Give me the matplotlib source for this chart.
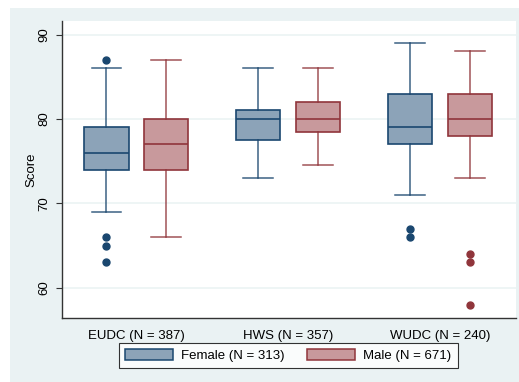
import matplotlib
matplotlib.use("Agg")
import matplotlib.pyplot as plt
from matplotlib.patches import Rectangle, Patch

plt.rcParams['font.family'] = ['Liberation Sans', 'DejaVu Sans']

# categories and group sizes
groups = ["EUDC (N = 387)", "HWS (N = 357)", "WUDC (N = 240)"]
series = ["Female (N = 313)", "Male (N = 671)"]

# box stats: [EUDC, HWS, WUDC]
female_whislo = [69, 73, 71]
female_q1 = [74, 77.5, 77]
female_med = [76, 80, 79]
female_q3 = [79, 81, 83]
female_whishi = [86, 86, 89]
female_fliers = [[87, 66, 65, 63], [], [67, 66]]

male_whislo = [66, 74.5, 73]
male_q1 = [74, 78.5, 78]
male_med = [77, 80, 80]
male_q3 = [80, 82, 83]
male_whishi = [87, 86, 88]
male_fliers = [[], [], [64, 63, 58]]

navy = "#1a476f"
navy_fill = "#8ca3b8"
red = "#90353b"
red_fill = "#c8999c"
bg = "#eaf2f3"
fs = 9.5


def make_stats(lo, q1, med, q3, hi, fl):
    out = []
    for i in range(len(lo)):
        out.append(dict(whislo=lo[i], q1=q1[i], med=med[i], q3=q3[i],
                        whishi=hi[i], fliers=fl[i]))
    return out


fig = plt.figure(figsize=(5.19, 3.82), dpi=100)
fig.patch.set_facecolor("white")
fig.patches.append(Rectangle((10 / 519, 0), 1, 1 - 8 / 382, transform=fig.transFigure,
                             facecolor=bg, edgecolor="none", zorder=-10))

ax = fig.add_axes([61.7 / 519, 1 - 317.7 / 382, (515.5 - 61.7) / 519, (317.7 - 21) / 382])
ax.set_facecolor("white")

off = 0.197
pos = range(len(groups))
for stats, col, fill, sh in [
        (make_stats(female_whislo, female_q1, female_med, female_q3, female_whishi, female_fliers), navy, navy_fill, -off),
        (make_stats(male_whislo, male_q1, male_med, male_q3, male_whishi, male_fliers), red, red_fill, off)]:
    ax.bxp(stats, positions=[p + sh for p in pos], widths=0.292, patch_artist=True,
           boxprops=dict(facecolor=fill, edgecolor=col, linewidth=1.2),
           medianprops=dict(color=col, linewidth=1.2),
           whiskerprops=dict(color=col, linewidth=1.1, alpha=0.85),
           capprops=dict(color=col, linewidth=1.1, alpha=0.85),
           capwidths=0.197,
           flierprops=dict(marker="o", markerfacecolor=col, markeredgecolor=col, markersize=5))

ax.set_xlim(-0.492, 2.497)
ax.set_ylim(56.45, 91.6)
ax.set_yticks([60, 70, 80, 90])
ax.set_yticklabels(["60", "70", "80", "90"], rotation=90, va="center")
ax.yaxis.grid(True, color=bg, linewidth=1.1)
ax.set_axisbelow(True)
ax.set_xticks(list(pos))
ax.set_xticklabels(groups, fontsize=fs)
ax.tick_params(axis="x", length=0, pad=9)
ax.tick_params(axis="y", length=4, labelsize=fs, color="#333333", pad=4)
ax.set_ylabel("Score", fontsize=fs, va="center")
ax.yaxis.set_label_coords(-0.066, 0.5)
for s in ["top", "right"]:
    ax.spines[s].set_visible(False)
for s in ["left", "bottom"]:
    ax.spines[s].set_color("#333333")
    ax.spines[s].set_linewidth(1.0)

handles = [Patch(facecolor=navy_fill, edgecolor=navy, linewidth=1.1),
           Patch(facecolor=red_fill, edgecolor=red, linewidth=1.1)]
leg = fig.legend(handles, series, loc="center", bbox_to_anchor=(288.5 / 519, 1 - 355.5 / 382),
                 ncol=2, fontsize=fs, frameon=True, fancybox=False,
                 handlelength=3.6, handleheight=0.9, handletextpad=0.65,
                 columnspacing=1.7, borderpad=0.45)
leg.get_frame().set_edgecolor("black")
leg.get_frame().set_linewidth(0.8)

fig.savefig("out.png", dpi=100)
